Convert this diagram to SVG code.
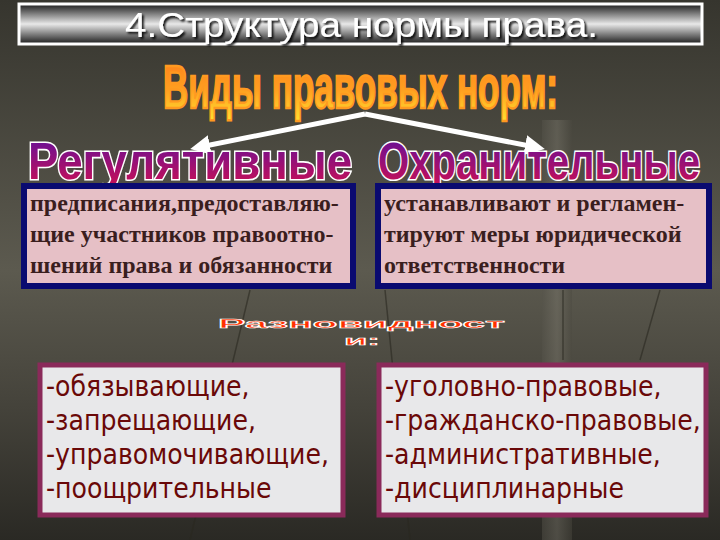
<svg xmlns="http://www.w3.org/2000/svg" width="720" height="540" viewBox="0 0 720 540">
<defs>
<linearGradient id="bg" x1="0" y1="0" x2="0" y2="1">
<stop offset="0" stop-color="#36352e"/>
<stop offset="0.5" stop-color="#5c5a4f"/>
<stop offset="0.75" stop-color="#45433b"/>
<stop offset="1" stop-color="#2a2924"/>
</linearGradient>
<linearGradient id="bar" x1="0" y1="0" x2="0" y2="1">
<stop offset="0" stop-color="#1a1a1a"/>
<stop offset="0.5" stop-color="#e8e8e8"/>
<stop offset="1" stop-color="#1a1a1a"/>
</linearGradient>
<linearGradient id="gold" x1="0" y1="0" x2="0" y2="1">
<stop offset="0" stop-color="#ff7a1a"/>
<stop offset="0.55" stop-color="#ffa020"/>
<stop offset="1" stop-color="#ffe030"/>
</linearGradient>
<linearGradient id="purp" x1="0" y1="0" x2="0" y2="1">
<stop offset="0" stop-color="#5a10a0"/>
<stop offset="1" stop-color="#d01050"/>
</linearGradient>
<linearGradient id="pill" x1="0" y1="0" x2="1" y2="0">
<stop offset="0" stop-color="#55534a"/>
<stop offset="0.5" stop-color="#7a776c"/>
<stop offset="1" stop-color="#4a483f"/>
</linearGradient>
<filter id="sh" x="-5%" y="-20%" width="110%" height="140%">
<feDropShadow dx="2" dy="2" stdDeviation="0.8" flood-color="#000000" flood-opacity="0.9"/>
</filter>
<marker id="ah" viewBox="0 0 10 10" refX="5" refY="5" markerWidth="4" markerHeight="4" orient="auto">
<path d="M0,0 L10,5 L0,10 Z" fill="#ffffff"/>
</marker>
<style>
.title{font-family:"Liberation Sans",Arial,sans-serif;font-size:35px;fill:#ffffff}
.wa{font-family:"Liberation Sans",Arial,sans-serif;font-weight:bold;fill:url(#purp);stroke:#ffffff;stroke-width:2.5px;paint-order:stroke}
.tb{font-family:"Liberation Serif","Times New Roman",serif;font-weight:bold;font-size:24px;fill:#3a1e1e}
.bb{font-family:"DejaVu Sans Condensed","DejaVu Sans",sans-serif;font-size:28px;fill:#6a0808}
.rz{font-family:"Liberation Sans",Arial,sans-serif;font-weight:bold;font-size:13px;fill:#ff3000;stroke:#ffffff;stroke-width:0.6px}
.conn{stroke:#ffffff;stroke-width:5;fill:none}
</style>
</defs>
<rect width="720" height="540" fill="url(#bg)"/>
<rect x="542" y="120" width="30" height="420" fill="url(#pill)" opacity="0.45"/>
<g stroke="#2a2820" stroke-width="1.5" opacity="0.6" fill="none">
<line x1="250" y1="290" x2="190" y2="540"/>
<line x1="385" y1="290" x2="410" y2="540"/>
<line x1="660" y1="290" x2="640" y2="360"/>
<line x1="563" y1="290" x2="563" y2="360"/>
</g>

<g id="title">
<rect x="19" y="4" width="683" height="40" fill="url(#bar)" stroke="#ffffff" stroke-width="3"/>
<text class="title" x="125" y="37" textLength="473" lengthAdjust="spacingAndGlyphs" filter="url(#sh)">4.Структура нормы права.</text>
</g>

<g id="heading">
<text x="163" y="0" transform="translate(0,108) scale(1,1.55)" font-family="'Liberation Sans',Arial,sans-serif" font-weight="bold" font-size="40" fill="url(#gold)" stroke="#ff9a20" stroke-width="1.5" textLength="395" lengthAdjust="spacingAndGlyphs">Виды правовых норм:</text>
</g>

<g id="connectors">
<path class="conn" d="M365,114 L200,147" marker-end="url(#ah)"/>
<path class="conn" d="M365,114 L535,147" marker-end="url(#ah)"/>
</g>

<g id="regul">
<text class="wa" x="28" y="0" transform="translate(0,179) scale(1,1.28)" font-size="41" textLength="324" lengthAdjust="spacingAndGlyphs">Регулятивные</text>
</g>
<g id="okhran">
<text class="wa" x="378" y="0" transform="translate(0,179) scale(1,1.28)" font-size="41" textLength="322" lengthAdjust="spacingAndGlyphs">Охранительные</text>
</g>

<g id="box-regul">
<rect x="24" y="186" width="329" height="100" fill="#e6c0c6" stroke="#0a0a70" stroke-width="6"/>
<text class="tb" x="30" y="211">предписания,предоставляю-</text>
<text class="tb" x="30" y="242">щие участников правоотно-</text>
<text class="tb" x="30" y="273">шений права и обязанности</text>
</g>
<g id="box-okhran">
<rect x="378" y="186" width="331" height="100" fill="#e6c0c6" stroke="#0a0a70" stroke-width="6"/>
<text class="tb" x="384" y="211">устанавливают и регламен-</text>
<text class="tb" x="384" y="242">тируют меры юридической</text>
<text class="tb" x="384" y="273">ответственности</text>
</g>

<g id="raznov">
<text class="rz" x="218" y="328" textLength="287" lengthAdjust="spacingAndGlyphs">Разновидност</text>
<text class="rz" x="344" y="345" textLength="36" lengthAdjust="spacingAndGlyphs">и:</text>
</g>

<g id="box-vidy1">
<rect x="40" y="365" width="303" height="150" fill="#e8e8ea" stroke="#8a2a5a" stroke-width="5"/>
<text class="bb" x="46" y="396">-обязывающие,</text>
<text class="bb" x="46" y="430">-запрещающие,</text>
<text class="bb" x="46" y="464">-управомочивающие,</text>
<text class="bb" x="46" y="498">-поощрительные</text>
</g>
<g id="box-vidy2">
<rect x="379" y="365" width="327" height="150" fill="#e8e8ea" stroke="#8a2a5a" stroke-width="5"/>
<text class="bb" x="385" y="396">-уголовно-правовые,</text>
<text class="bb" x="385" y="430">-гражданско-правовые,</text>
<text class="bb" x="385" y="464">-административные,</text>
<text class="bb" x="385" y="498">-дисциплинарные</text>
</g>
</svg>
